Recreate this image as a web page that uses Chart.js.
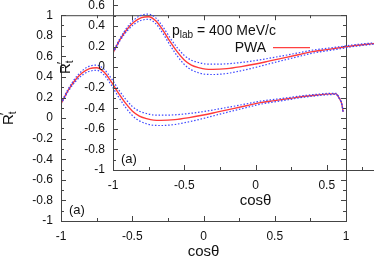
<!DOCTYPE html>
<html><head><meta charset="utf-8">
<script src="https://cdn.jsdelivr.net/npm/chart.js@4/dist/chart.umd.min.js"></script>
<style>
html,body{margin:0;padding:0;background:#fff}
#wrap{position:relative;width:374px;height:262px;overflow:hidden;background:#fff}
canvas{position:absolute}
#c1{left:0;top:0}
#c2{left:52px;top:-51px}
</style></head><body>
<div id="wrap"><canvas id="c1" width="374" height="262"></canvas><canvas id="c2" width="374" height="262"></canvas></div>
<script>
const cosTheta = [-1,-0.95,-0.9,-0.85,-0.8,-0.75,-0.7,-0.65,-0.6,-0.55,-0.5,-0.45,-0.4,-0.35,-0.3,-0.2,-0.1,0,0.1,0.2,0.3,0.4,0.5,0.6,0.7,0.8,0.9,0.93,0.95,0.97,0.98];
const rtPWA   = [0.14,0.27,0.37,0.44,0.48,0.49,0.45,0.36,0.25,0.15,0.07,0.02,-0.005,-0.02,-0.022,-0.015,0.005,0.03,0.06,0.09,0.12,0.15,0.17,0.19,0.21,0.225,0.235,0.235,0.2,0.14,0.06];
const rtUpper = [0.145,0.282,0.388,0.462,0.505,0.515,0.478,0.392,0.286,0.19,0.114,0.067,0.045,0.03,0.028,0.032,0.045,0.063,0.087,0.112,0.138,0.165,0.182,0.2,0.218,0.232,0.241,0.24,0.205,0.144,0.063];
const rtLower = [0.135,0.258,0.352,0.418,0.455,0.465,0.422,0.328,0.214,0.11,0.026,-0.027,-0.055,-0.07,-0.072,-0.062,-0.035,-0.003,0.033,0.068,0.102,0.135,0.158,0.18,0.202,0.218,0.229,0.23,0.195,0.136,0.057];
const xTickValues = [-1,-0.75,-0.5,-0.25,0,0.25,0.5,0.75,1];
const yTickValues = [-1,-0.9,-0.8,-0.7,-0.6,-0.5,-0.4,-0.3,-0.2,-0.1,0,0.1,0.2,0.3,0.4,0.5,0.6,0.7,0.8,0.9,1];
const xTitle = 'cosθ';
const legendMomentum = ['p','lab',' = 400 MeV/c'];
const legendLabel = 'PWA';
const panelLabel = '(a)';

const FONT = "'Liberation Sans', Arial, sans-serif";
const pts = arr => cosTheta.map((c,i)=>({x:c,y:arr[i]}));
const isMult = (v,s)=>Math.abs(v/s-Math.round(v/s))<1e-6;
const fmt = v => String(Math.round(v*10)/10);

function framePlugin(showLegend){
  return {
    id:'frame',
    afterDatasetsDraw(chart){
      const {ctx, chartArea:a} = chart;
      const xs = chart.scales.x, ys = chart.scales.y;
      ctx.save();
      ctx.strokeStyle = '#444'; ctx.lineWidth = 1;
      ctx.strokeRect(a.left+0.5, a.top+0.5, a.right-a.left, a.bottom-a.top);
      ctx.beginPath();
      xTickValues.forEach(v=>{
        const px = Math.round(xs.getPixelForValue(v))+0.5;
        const L = isMult(v,0.5)?5:3;
        ctx.moveTo(px,a.bottom); ctx.lineTo(px,a.bottom-L);
        ctx.moveTo(px,a.top); ctx.lineTo(px,a.top+L);
      });
      yTickValues.forEach(v=>{
        const py = Math.round(ys.getPixelForValue(v))+0.5;
        const L = isMult(v,0.2)?5:3;
        ctx.moveTo(a.left,py); ctx.lineTo(a.left+L,py);
        ctx.moveTo(a.right,py); ctx.lineTo(a.right-L,py);
      });
      ctx.stroke();
      ctx.fillStyle = '#111';
      ctx.font = '15px '+FONT; ctx.textAlign='center'; ctx.textBaseline='middle';
      ctx.fillText(xTitle,(a.left+a.right)/2,a.bottom+31);
      ctx.save();
      ctx.translate(showLegend?13:8,(a.top+a.bottom)/2-1);
      ctx.rotate(-Math.PI/2);
      ctx.font = '15px '+FONT; ctx.textAlign='left'; ctx.textBaseline='alphabetic';
      const rw = ctx.measureText('R').width;
      const x0 = -(rw+5)/2;
      ctx.fillText('R',x0,5);
      ctx.font = '13px '+FONT;
      ctx.fillText('\u2032',x0+rw-1,1);
      ctx.font = '10px '+FONT;
      ctx.fillText('t',x0+rw,8);
      ctx.restore();
      ctx.font = '13px '+FONT; ctx.textAlign='left'; ctx.textBaseline='middle';
      ctx.fillText(panelLabel,a.left+8,a.bottom-11);
      if(showLegend){
        let x = a.left+59, y = a.top+66;
        ctx.font='14px '+FONT; ctx.textBaseline='alphabetic';
        ctx.fillText(legendMomentum[0],x,y+5); x+=ctx.measureText(legendMomentum[0]).width;
        ctx.font='10px '+FONT;
        ctx.fillText(legendMomentum[1],x,y+8); x+=ctx.measureText(legendMomentum[1]).width;
        ctx.font='14px '+FONT;
        ctx.fillText(legendMomentum[2],x,y+5);
        ctx.textAlign='right'; ctx.textBaseline='middle';
        ctx.fillText(legendLabel,a.left+153,a.top+84);
        ctx.strokeStyle='#ff4040'; ctx.lineWidth=1.3;
        ctx.beginPath(); ctx.moveTo(a.left+160,a.top+83.5); ctx.lineTo(a.left+197,a.top+83.5); ctx.stroke();
      }
      ctx.restore();
    }
  };
}

function make(id, showLegend){
  const blue = {borderColor:'rgba(50,60,255,0.95)', borderWidth:1.2, borderDash:[1.5,1.8], pointRadius:0, showLine:true, fill:false, cubicInterpolationMode:'monotone'};
  return new Chart(document.getElementById(id),{
    type:'scatter',
    data:{datasets:[
      Object.assign({label:'upper',data:pts(rtUpper)},blue),
      Object.assign({label:'lower',data:pts(rtLower)},blue),
      {label:legendLabel,data:pts(rtPWA),borderColor:'#ff3a3a',borderWidth:1.4,pointRadius:0,showLine:true,fill:false,cubicInterpolationMode:'monotone'}
    ]},
    options:{
      responsive:false, animation:false, devicePixelRatio:1,
      layout:{padding:{top:15,right:28,left:0,bottom:0}},
      plugins:{legend:{display:false},tooltip:{enabled:false}},
      scales:{
        x:{type:'linear',min:-1,max:1,
          afterBuildTicks:s=>{s.ticks=xTickValues.map(v=>({value:v}));},
          afterFit:s=>{s.height=41;},
          grid:{display:false,drawTicks:false}, border:{display:false},
          ticks:{autoSkip:false,maxRotation:0,padding:8,color:'#111',font:{family:FONT,size:12},
            callback:v=>isMult(v,0.5)?fmt(v):''}},
        y:{type:'linear',min:-1,max:1,
          afterBuildTicks:s=>{s.ticks=yTickValues.map(v=>({value:v}));},
          afterFit:s=>{s.width=61;},
          grid:{display:false,drawTicks:false}, border:{display:false},
          ticks:{autoSkip:false,padding:8,color:'#111',font:{family:FONT,size:12},
            callback:v=>isMult(v,0.2)?fmt(v):''}}
      }
    },
    plugins:[framePlugin(showLegend)]
  });
}
make('c1',false);
make('c2',true);
</script></body></html>
